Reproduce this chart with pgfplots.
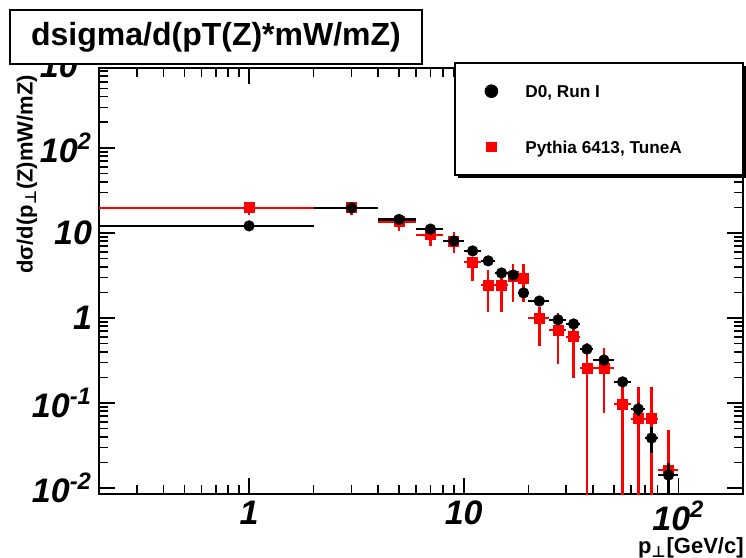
\documentclass[border=0pt]{standalone}
\usepackage{pgfplots}
\pgfplotsset{compat=1.18}
\usepackage{pgfplotstable}
\usepackage{fontspec}
\setmainfont{Liberation Sans}
\newfontfamily\dejavu{DejaVu Sans}
\newcommand{\perpsym}{{\dejavu\bfseries ⊥}}

\pgfplotstableread{
x     y       exm   exp  eyp     eym
1     12.1    0.99  1    0.5     0.5
3     19.7    1     1    0.8     0.8
5     14.4    1     1    0.6     0.6
7     11.1    1     1    0.45    0.45
9     8.05    1     1    0.35    0.35
11    6.14    1     1    0.3     0.3
13    4.69    1     1    0.25    0.25
15    3.38    1     1    0.2     0.2
17    3.2     1     1    0.2     0.2
19    1.97    1     1    0.12    0.12
22.5  1.58    2.5   2.5  0.1     0.1
27.5  0.95    2.5   2.5  0.07    0.07
32.5  0.85    2.5   2.5  0.07    0.07
37.5  0.43    2.5   2.5  0.045   0.045
45    0.32    5     5    0.03    0.03
55    0.177   5     5    0.025   0.022
65    0.085   5     5    0.015   0.014
75    0.0387  5     5    0.0133  0.0129
90    0.0142  10    10   0.0055  0.0112
}\dzero

\pgfplotstableread{
x     y       exm   exp  eyp     eym
1     19.7    0.99  1    2.9     3.4
3     19.7    1     1    3.0     3.4
5     13.5    1     1    3.2     2.9
7     9.5     1     1    2.9     2.5
9     8.05    1     1    2.25    2.25
11    4.56    1     1    0.64    1.84
13    2.44    1     1    1.23    1.26
15    2.44    1     1    1.23    1.26
17    3.04    1     1    1.28    1.50
19    2.95    1     1    1.37    1.41
22.5  1.0     2.5   2.5  0.35    0.53
27.5  0.72    2.5   2.5  0.43    0.432
32.5  0.60    2.5   2.5  0.297   0.403
37.5  0.258   2.5   2.5  0.252   0.257
45    0.258   5     5    0.185   0.182
55    0.097   5     5    0.105   0.096
65    0.065   5     5    0.089   0.064
75    0.065   5     5    0.089   0.064
90    0.0163  10    10   0.0317  0.0133
}\pythia

\begin{document}
\begin{tikzpicture}
\useasboundingbox (0,0) rectangle (373pt,279pt);
\begin{axis}[
  at={(49.5pt,32pt)}, anchor=south west,
  width=322pt, height=213pt, scale only axis,
  xmode=log, ymode=log,
  xmin=0.2, xmax=200, ymin=0.0085, ymax=870,
  xtick={1,10,100}, xticklabels={1,10,10\textsuperscript{2}},
  ytick={0.01,0.1,1,10,100},
  yticklabels={10\textsuperscript{-2},10\textsuperscript{-1},1,10,10\textsuperscript{2}},
  minor xtick={0.3,0.4,0.5,0.6,0.7,0.8,0.9,2,3,4,5,6,7,8,9,20,30,40,50,60,70,80,90},
  minor ytick={0.02,0.03,0.04,0.05,0.06,0.07,0.08,0.09,0.2,0.3,0.4,0.5,0.6,0.7,0.8,0.9,2,3,4,5,6,7,8,9,20,30,40,50,60,70,80,90,200,300,400,500,600,700,800},
  major tick length=8pt, minor tick length=4.5pt,
  tick style={black, line width=0.8pt},
  axis line style={line width=1pt},
  ticklabel style={font=\fontsize{17}{17}\selectfont\bfseries\itshape},
  clip mode=individual,
  ylabel={\bfseries dσ/d(p\textsubscript{\perpsym}(Z)mW/mZ)},
  ylabel style={at={(axis description cs:-0.1118,1)}, anchor=east, font=\fontsize{11}{11}\selectfont},
  xlabel={\bfseries p\textsubscript{\perpsym}[GeV/c]},
  xlabel style={at={(axis description cs:1.012,-0.127)}, anchor=east, font=\fontsize{11}{11}\selectfont},
  legend style={draw=none, fill=none, at={(axis description cs:0.5988,0.9653)}, anchor=north west,
    font=\fontsize{8.6}{10}\selectfont\bfseries, row sep=19.8pt, inner sep=0pt,
    nodes={inner sep=1pt, text depth=0pt}, cells={anchor=west}},
  legend image code/.code={\path[draw=none, fill=none] (-3.2pt,-3.2pt) rectangle (16pt,3.2pt); \draw[#1] plot coordinates {(0pt,0pt)};},
]
\addplot[forget plot, only marks, mark=square*, mark size=2.5pt, red, mark options={fill=red, draw=red},
  error bars/.cd, x dir=both, x explicit, y dir=both, y explicit, error mark=none,
  error bar style={line width=1.3pt, red}]
  table[x=x, y=y, x error plus=exp, x error minus=exm, y error plus=eyp, y error minus=eym] {\pythia};
\addplot[forget plot, only marks, mark=*, mark size=2.6pt, black, mark options={fill=black, draw=black},
  error bars/.cd, x dir=both, x explicit, y dir=both, y explicit, error mark=none,
  error bar style={line width=1.3pt, black}]
  table[x=x, y=y, x error plus=exp, x error minus=exm, y error plus=eyp, y error minus=eym] {\dzero};
% legend frame with shadow
\fill[black] (axis description cs:0.5575,1.0047) rectangle (axis description cs:1.0047,0.7418);
\draw[fill=white, line width=0.8pt] (axis description cs:0.5528,1.0117) rectangle (axis description cs:1.0,0.7488);
\node[anchor=east, font=\fontsize{17}{17}\selectfont\bfseries\itshape] at (axis cs:0.2,1000) {10\textsuperscript{3}};
\addlegendimage{only marks, mark=*, black, mark size=3.2pt}
\addlegendentry{D0, Run I}
\addlegendimage{only marks, mark=square*, red, mark size=2.3pt}
\addlegendentry{Pythia 6413, TuneA}
\end{axis}
\draw[fill=white, line width=1pt] (5pt,247pt) rectangle (211pt,274pt);
\node[font=\fontsize{16}{16}\selectfont\bfseries] at (108pt,260.5pt) {dsigma/d(pT(Z)*mW/mZ)};
\end{tikzpicture}
\end{document}
